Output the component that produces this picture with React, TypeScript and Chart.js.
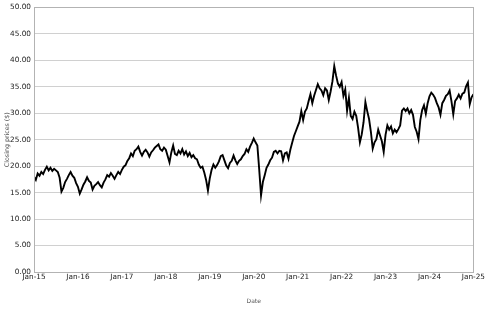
import React, { useEffect, useRef } from "react";
import { Chart, registerables } from "chart.js";

Chart.register(...registerables);

const startYear = 2015;
const endYear = 2025;
const pointsPerYear = 24;

const prices2015 = [18.0, 17.4, 18.6, 18.2, 18.9, 18.5, 19.3, 19.9, 19.2, 19.7, 19.1, 19.5, 19.2, 18.9, 17.8, 15.2, 15.9, 17.0, 17.6, 18.3, 18.9, 18.2, 17.8, 16.8];
const prices2016 = [16.1, 14.8, 15.6, 16.5, 17.1, 17.9, 17.2, 16.9, 15.6, 16.3, 16.6, 17.0, 16.4, 16.0, 16.9, 17.5, 18.3, 18.0, 18.7, 18.2, 17.6, 18.3, 18.9, 18.5];
const prices2017 = [19.3, 19.9, 20.2, 21.0, 21.5, 22.4, 21.9, 22.9, 23.2, 23.7, 22.7, 22.0, 22.7, 23.1, 22.6, 21.8, 22.6, 23.0, 23.5, 23.8, 24.1, 23.2, 22.9, 23.5];
const prices2018 = [23.1, 21.9, 20.7, 22.6, 23.9, 22.3, 22.1, 22.9, 22.4, 23.2, 22.2, 22.8, 21.9, 22.5, 21.7, 22.1, 21.5, 21.3, 20.3, 19.7, 19.9, 18.8, 17.4, 15.4];
const prices2019 = [17.7, 19.3, 20.3, 19.7, 20.2, 20.9, 21.9, 22.1, 21.1, 20.1, 19.6, 20.6, 21.0, 22.0, 21.1, 20.4, 21.0, 21.3, 21.9, 22.3, 23.2, 22.7, 23.7, 24.4];
const prices2020 = [25.2, 24.5, 23.9, 19.4, 14.5, 17.0, 18.3, 19.7, 20.3, 21.1, 21.6, 22.7, 22.9, 22.4, 22.9, 22.8, 21.1, 22.4, 22.6, 21.4, 23.1, 24.4, 25.7, 26.6];
const prices2021 = [27.5, 28.4, 30.4, 28.7, 30.3, 30.9, 32.3, 33.6, 31.9, 33.3, 34.4, 35.5, 34.7, 34.3, 33.4, 34.7, 34.3, 32.5, 34.1, 36.0, 38.9, 37.1, 35.6, 35.0];
const prices2022 = [35.9, 33.3, 34.5, 30.5, 32.9, 29.5, 28.9, 30.3, 29.5, 27.3, 24.5, 26.0, 28.3, 32.1, 30.4, 28.9, 26.5, 23.3, 24.5, 25.1, 26.9, 25.8, 24.7, 22.7];
const prices2023 = [25.9, 27.7, 26.9, 27.5, 26.2, 26.9, 26.4, 27.0, 27.7, 30.5, 30.9, 30.4, 30.9, 30.0, 30.6, 29.7, 27.4, 26.5, 25.1, 28.7, 30.6, 31.5, 29.9, 31.9];
const prices2024 = [33.2, 33.9, 33.5, 32.9, 31.9, 31.1, 29.7, 31.9, 32.5, 33.3, 33.6, 34.3, 32.3, 29.8, 32.3, 32.8, 33.5, 32.8, 33.7, 33.9, 35.1, 35.8, 31.7, 33.0];
const prices2025 = [33.6];

const yearlyPrices = [prices2015, prices2016, prices2017, prices2018, prices2019, prices2020, prices2021, prices2022, prices2023, prices2024, prices2025];

const yTicks = [0, 5, 10, 15, 20, 25, 30, 35, 40, 45, 50];
const xTickYears = [2015, 2016, 2017, 2018, 2019, 2020, 2021, 2022, 2023, 2024, 2025];

const FONT = "'DejaVu Sans', sans-serif";

const frame = {
  id: "frame",
  afterDatasetsDraw(chart: any) {
    const { ctx, chartArea } = chart;
    ctx.save();
    ctx.strokeStyle = "#b3b3b3";
    ctx.lineWidth = 1;
    ctx.strokeRect(Math.round(chartArea.left) + 0.5, Math.round(chartArea.top) + 0.5, Math.round(chartArea.right - chartArea.left), Math.round(chartArea.bottom - chartArea.top));
    ctx.restore();
  },
};

export default function App() {
  const ref = useRef<HTMLCanvasElement | null>(null);
  useEffect(() => {
    if (!ref.current) return;
    const data: { x: number; y: number }[] = [];
    yearlyPrices.forEach((arr, yi) => {
      arr.forEach((v, i) => {
        data.push({ x: startYear + yi + i / pointsPerYear, y: v });
      });
    });
    const chart = new Chart(ref.current, {
      type: "line",
      data: {
        datasets: [
          {
            data,
            borderColor: "#000000",
            borderWidth: 1.9,
            pointRadius: 0,
            tension: 0,
            fill: false,
          },
        ],
      },
      options: {
        animation: false,
        responsive: true,
        maintainAspectRatio: false,
        layout: { padding: { top: 2, right: 12, left: 0, bottom: 0 } },
        plugins: { legend: { display: false }, tooltip: { enabled: false } },
        scales: {
          x: {
            type: "linear",
            min: startYear,
            max: endYear,
            afterBuildTicks: (scale: any) => {
              scale.ticks = xTickYears.map((v) => ({ value: v }));
            },
            afterFit: (scale: any) => {
              scale.height = 37;
            },
            ticks: {
              autoSkip: false,
              maxRotation: 0,
              padding: 1,
              color: "#222",
              font: { family: FONT, size: 7.3 },
              callback: (v: any) => "Jan-" + String(v).slice(2),
            },
            grid: { display: false, drawTicks: false },
            border: { display: false },
            title: {
              display: true,
              text: "Date",
              color: "#555",
              font: { family: FONT, size: 6 },
              padding: { top: 4, bottom: 4 },
            },
          },
          y: {
            type: "linear",
            min: 0,
            max: 50,
            afterBuildTicks: (scale: any) => {
              scale.ticks = yTicks.map((v) => ({ value: v }));
            },
            afterFit: (scale: any) => {
              scale.width = 34;
            },
            ticks: {
              autoSkip: false,
              padding: 3,
              color: "#222",
              font: { family: FONT, size: 7.3 },
              callback: (v: any) => Number(v).toFixed(2),
            },
            grid: { color: "#d0d0d0", lineWidth: 1, drawTicks: false },
            border: { display: false },
            title: {
              display: true,
              text: "Closing prices ($)",
              color: "#555",
              font: { family: FONT, size: 6.3 },
              padding: { top: 4, bottom: 4 },
            },
          },
        },
      },
      plugins: [frame],
    });
    return () => chart.destroy();
  }, []);
  return (
    <div style={{ position: "absolute", left: 0, top: 0, width: 486, height: 309, background: "#fff" }}>
      <canvas ref={ref} />
    </div>
  );
}
